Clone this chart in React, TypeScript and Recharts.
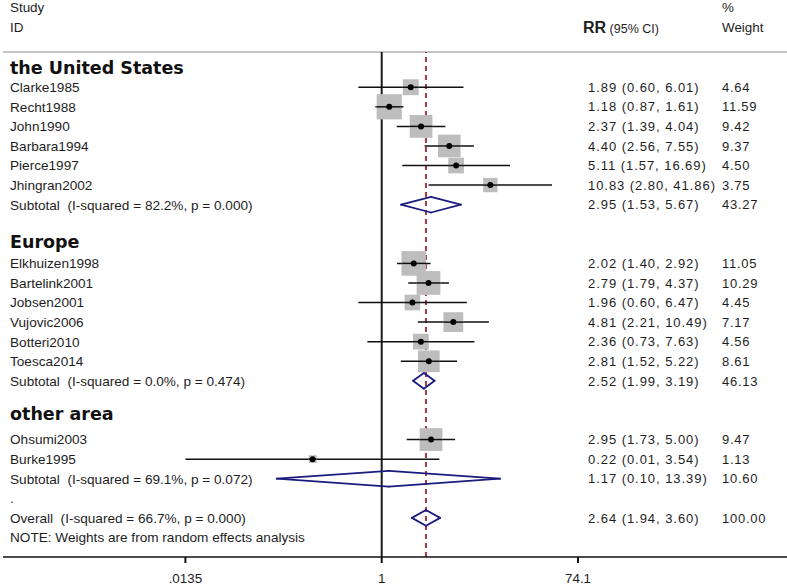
import {
  ReferenceLine,
  Scatter,
  ScatterChart,
  XAxis,
  YAxis,
} from "recharts";

// study level data
const usStudies = ["Clarke1985", "Recht1988", "John1990", "Barbara1994", "Pierce1997", "Jhingran2002"];
const usRR = [1.89, 1.18, 2.37, 4.4, 5.11, 10.83];
const usLow = [0.6, 0.87, 1.39, 2.56, 1.57, 2.8];
const usHigh = [6.01, 1.61, 4.04, 7.55, 16.69, 41.86];
const usWeight = [4.64, 11.59, 9.42, 9.37, 4.5, 3.75];

const euStudies = ["Elkhuizen1998", "Bartelink2001", "Jobsen2001", "Vujovic2006", "Botteri2010", "Toesca2014"];
const euRR = [2.02, 2.79, 1.96, 4.81, 2.36, 2.81];
const euLow = [1.4, 1.79, 0.6, 2.21, 0.73, 1.52];
const euHigh = [2.92, 4.37, 6.47, 10.49, 7.63, 5.22];
const euWeight = [11.05, 10.29, 4.45, 7.17, 4.56, 8.61];

const otherStudies = ["Ohsumi2003", "Burke1995"];
const otherRR = [2.95, 0.22];
const otherLow = [1.73, 0.01];
const otherHigh = [5.0, 3.54];
const otherWeight = [9.47, 1.13];

const groupNames = ["the United States", "Europe", "other area"];
const subtotalLabels = [
  "Subtotal  (I-squared = 82.2%, p = 0.000)",
  "Subtotal  (I-squared = 0.0%, p = 0.474)",
  "Subtotal  (I-squared = 69.1%, p = 0.072)",
];
const subtotalRR = [2.95, 2.52, 1.17];
const subtotalLow = [1.53, 1.99, 0.1];
const subtotalHigh = [5.67, 3.19, 13.39];
const subtotalWeight = [43.27, 46.13, 10.6];

const overallLabel = "Overall  (I-squared = 66.7%, p = 0.000)";
const overallRR = 2.64;
const overallLow = 1.94;
const overallHigh = 3.6;
const overallWeight = 100.0;

const noteText = "NOTE: Weights are from random effects analysis";

const xTicks = [0.0135, 1, 74.1];
const xTickLabels = [".0135", "1", "74.1"];

// layout
const W = 787;
const H = 585;
const PLOT_LEFT = 3;
const ONE_X = 381.7;
const PX_PER_DECADE = 105;
const X_DOMAIN = [
  Math.pow(10, (PLOT_LEFT - ONE_X) / PX_PER_DECADE),
  Math.pow(10, (W - ONE_X) / PX_PER_DECADE),
];
const Y_DOMAIN = [-1.8, 24];
const headerShift = [0, -0.1, -0.3];
const DIAMOND_H = 0.4;
// CIs are cut at the ends of the labelled axis range
const clipX = (v: number) => Math.min(Math.max(v, xTicks[0]), xTicks[xTicks.length - 1]);

const FONT = "'Liberation Sans', Arial, sans-serif";
const BOLD_FONT = "'DejaVu Sans', Verdana, sans-serif";
const TEXT = "#1e1e1e";
const NAVY = "#1b1b7d";
const RED = "#a63a47";

type Kind = "header" | "study" | "subtotal" | "overall" | "note" | "blank";
interface Row {
  pos: number;
  kind: Kind;
  label: string;
  rr?: number;
  low?: number;
  high?: number;
  weight?: number;
}

const groups = [
  { studies: usStudies, rr: usRR, low: usLow, high: usHigh, w: usWeight },
  { studies: euStudies, rr: euRR, low: euLow, high: euHigh, w: euWeight },
  { studies: otherStudies, rr: otherRR, low: otherLow, high: otherHigh, w: otherWeight },
];

const rows: Row[] = [];
let r = 0;
groups.forEach((g, gi) => {
  rows.push({ pos: r - 1 + headerShift[gi], kind: "header", label: groupNames[gi] });
  g.studies.forEach((s, i) => {
    rows.push({ pos: r, kind: "study", label: s, rr: g.rr[i], low: g.low[i], high: g.high[i], weight: g.w[i] });
    r += 1;
  });
  rows.push({
    pos: r,
    kind: "subtotal",
    label: subtotalLabels[gi],
    rr: subtotalRR[gi],
    low: subtotalLow[gi],
    high: subtotalHigh[gi],
    weight: subtotalWeight[gi],
  });
  r += 3;
});
r -= 2;
rows.push({ pos: r, kind: "blank", label: "." });
rows.push({ pos: r + 1, kind: "overall", label: overallLabel, rr: overallRR, low: overallLow, high: overallHigh, weight: overallWeight });
rows.push({ pos: r + 2, kind: "note", label: noteText });

const studyPoints = rows
  .filter((row) => row.kind === "study")
  .map((row) => ({ x: row.rr, y: row.pos, w: row.weight }));
const ciRows = rows.filter((row) => row.kind === "study");
const diamondRows = rows.filter((row) => row.kind === "subtotal" || row.kind === "overall");

const fmt = (v: number) => v.toFixed(2);

function RowTick(props: any) {
  const { y, payload } = props;
  const row = rows.find((rw) => Math.abs(rw.pos - Number(payload?.value)) < 1e-6);
  if (!row) return <g />;
  if (row.kind === "header") {
    return (
      <text x={10} y={y} dy="0.36em" fontFamily={BOLD_FONT} fontWeight="bold" fontSize={17.5} fill="#111">
        {row.label}
      </text>
    );
  }
  return (
    <g fontFamily={FONT} fill={TEXT}>
      <text x={10} y={y} dy="0.36em" fontSize={13.6} style={{ whiteSpace: "pre" }}>
        {row.label}
      </text>
      {row.rr !== undefined && (
        <text x={588} y={y} dy="0.36em" fontSize={13} letterSpacing={0.95}>
          {`${fmt(row.rr)} (${fmt(row.low!)}, ${fmt(row.high!)})`}
        </text>
      )}
      {row.weight !== undefined && (
        <text x={722} y={y} dy="0.36em" fontSize={13} letterSpacing={0.75}>
          {fmt(row.weight)}
        </text>
      )}
    </g>
  );
}

function WeightBox(props: any) {
  const { cx, cy, payload } = props;
  const side = 7.4 * Math.sqrt(payload.w);
  return (
    <g>
      <rect x={cx - side / 2} y={cy - side / 2} width={side} height={side} fill="#bdbdbd" />
      <line x1={cx - side / 2} x2={cx + side / 2} y1={cy} y2={cy} stroke="#111" strokeWidth={1.5} />
      <circle cx={cx} cy={cy} r={3} fill="#000" />
    </g>
  );
}

function Header() {
  const base: React.CSSProperties = {
    position: "absolute",
    fontFamily: FONT,
    fontSize: 13.4,
    color: TEXT,
    lineHeight: "16px",
    whiteSpace: "pre",
  };
  return (
    <>
      <div style={{ ...base, left: 10, top: 0 }}>Study</div>
      <div style={{ ...base, left: 10, top: 20 }}>ID</div>
      <div style={{ ...base, left: 583, top: 19, lineHeight: "18px" }}>
        <span style={{ fontWeight: "bold", fontSize: 16 }}>RR</span>
        <span style={{ fontSize: 12.5 }}> (95% CI)</span>
      </div>
      <div style={{ ...base, left: 722, top: 0 }}>%</div>
      <div style={{ ...base, left: 722, top: 20 }}>Weight</div>
    </>
  );
}

export default function App() {
  return (
    <div style={{ position: "absolute", left: 0, top: 0, width: W, height: H, background: "#fff" }}>
      <ScatterChart width={W} height={H} margin={{ top: 52, right: 0, bottom: 0, left: PLOT_LEFT - 1 }}>
        <XAxis
          type="number"
          dataKey="x"
          scale="log"
          domain={X_DOMAIN}
          allowDataOverflow
          ticks={xTicks}
          interval={0}
          tickFormatter={(v: number) => xTickLabels[xTicks.indexOf(v)] ?? String(v)}
          height={28}
          tickSize={6}
          tickMargin={10}
          axisLine={{ stroke: "#111", strokeWidth: 1.5 }}
          tickLine={{ stroke: "#111", strokeWidth: 2 }}
          tick={{ fill: TEXT, fontSize: 13.4, fontFamily: FONT }}
        />
        <YAxis
          type="number"
          dataKey="y"
          reversed
          domain={Y_DOMAIN}
          allowDataOverflow
          ticks={rows.map((row) => row.pos)}
          interval={0}
          width={1}
          axisLine={false}
          tickLine={false}
          tick={(p: any) => <RowTick {...p} />}
        />
        <ReferenceLine y={Y_DOMAIN[0]} stroke="#c4c4c4" strokeWidth={2} />
        <ReferenceLine x={1} stroke="#1a1a1a" strokeWidth={2} />
        <ReferenceLine x={overallRR} stroke={RED} strokeWidth={2} strokeDasharray="5 4" />
        {ciRows.map((row) => (
          <ReferenceLine
            key={`ci-${row.label}`}
            segment={[
              { x: clipX(row.low!), y: row.pos },
              { x: clipX(row.high!), y: row.pos },
            ]}
            stroke="#111"
            strokeWidth={1.5}
          />
        ))}
        {diamondRows.flatMap((row) => {
          const pts = [
            { x: row.low, y: row.pos },
            { x: row.rr, y: row.pos - DIAMOND_H },
            { x: row.high, y: row.pos },
            { x: row.rr, y: row.pos + DIAMOND_H },
            { x: row.low, y: row.pos },
          ];
          return pts.slice(0, 4).map((p, i) => (
            <ReferenceLine
              key={`d-${row.label}-${i}`}
              segment={[p, pts[i + 1]]}
              stroke={NAVY}
              strokeWidth={1.8}
              strokeLinecap="round"
            />
          ));
        })}
        <Scatter data={studyPoints} shape={<WeightBox />} isAnimationActive={false} />
      </ScatterChart>
      <Header />
    </div>
  );
}
